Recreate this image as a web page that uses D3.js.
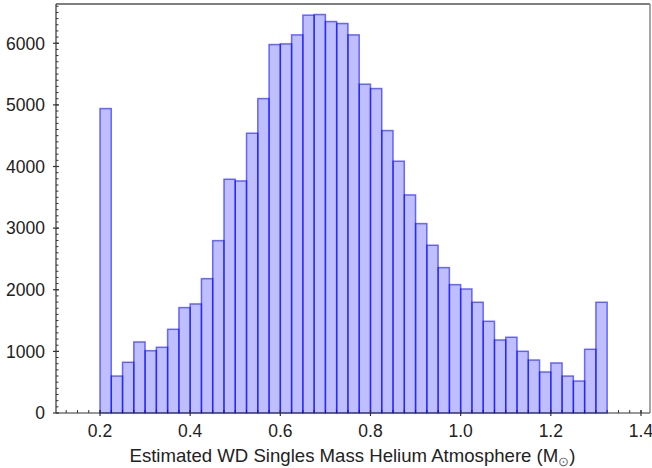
<!DOCTYPE html>
<html>
<head>
<meta charset="utf-8">
<script src="https://cdn.jsdelivr.net/npm/d3@7"></script>
<style>
  body { margin: 0; background: #fff; }
  text { font-family: "Liberation Sans", sans-serif; fill: #222; }
</style>
</head>
<body>
<div id="chart"></div>
<script>
const W = 652, H = 468;
const mLeft = 56, mRight = 650, mTop = 4, mBottom = 413;

// histogram of WD masses, bins 0.025 wide starting at 0.2
const binStart = 0.2;
const binWidth = 0.025;
const counts = [4940, 600, 823, 1153, 1011, 1066, 1358, 1710, 1770, 2180,
  2797, 3793, 3766, 4540, 5102, 5979, 5990, 6136, 6456, 6466,
  6352, 6320, 6136, 5336, 5265, 4583, 4086, 3539, 3073, 2722,
  2359, 2083, 2013, 1797, 1488, 1185, 1229, 1001, 860, 666,
  812, 600, 519, 1034, 1797];
const xTicks = [0.2, 0.4, 0.6, 0.8, 1.0, 1.2, 1.4];
const yTicks = [0, 1000, 2000, 3000, 4000, 5000, 6000];
const xLabel = "Estimated WD Singles Mass Helium Atmosphere (M";

const bins = counts.map((c, i) => ({
  x0: +(binStart + i*binWidth).toFixed(3),
  x1: +(binStart + (i+1)*binWidth).toFixed(3),
  n: c
}));

const x = d3.scaleLinear().domain([0.1024, 1.42]).range([mLeft, mRight]);
const y = d3.scaleLinear().domain([0, 6637]).range([mBottom, mTop]);

const svg = d3.select('#chart').append('svg')
  .attr('width', W).attr('height', H);

// minor ticks (drawn first, bars cover them)
const xMinor = d3.range(0.125, 1.42, 0.025).map(v => +v.toFixed(3));
svg.append('g').selectAll('line').data(xMinor).join('line')
  .attr('x1', d => x(d)).attr('x2', d => x(d))
  .attr('y1', mBottom).attr('y2', mBottom - 3)
  .attr('stroke', '#333').attr('stroke-width', 1);
const yMinor = d3.range(100, 6637, 100);
svg.append('g').selectAll('line').data(yMinor).join('line')
  .attr('x1', mLeft).attr('x2', mLeft + 2.5)
  .attr('y1', d => y(d)).attr('y2', d => y(d))
  .attr('stroke', '#333').attr('stroke-width', 1);

// bars
svg.append('g').selectAll('rect').data(bins).join('rect')
  .attr('x', d => x(d.x0))
  .attr('y', d => y(d.n))
  .attr('width', d => x(d.x1) - x(d.x0))
  .attr('height', d => y(0) - y(d.n))
  .attr('fill', 'rgb(0,0,255)')
  .attr('fill-opacity', 0.25)
  .attr('stroke', 'rgb(0,0,255)')
  .attr('stroke-opacity', 0.55)
  .attr('stroke-width', 1.5);

// frame
svg.append('line').attr('x1', mLeft).attr('x2', mRight).attr('y1', mTop).attr('y2', mTop)
  .attr('stroke', '#555').attr('stroke-width', 1.5);
svg.append('line').attr('x1', mRight).attr('x2', mRight).attr('y1', mTop).attr('y2', mBottom)
  .attr('stroke', '#888').attr('stroke-width', 1.5);
svg.append('line').attr('x1', mLeft).attr('x2', mLeft).attr('y1', mTop).attr('y2', mBottom)
  .attr('stroke', '#333').attr('stroke-width', 1.2);
svg.append('line').attr('x1', mLeft).attr('x2', mRight).attr('y1', mBottom).attr('y2', mBottom)
  .attr('stroke', '#333').attr('stroke-width', 1.2);

// major ticks + labels
const xAxis = svg.append('g');
xAxis.selectAll('line').data(xTicks).join('line')
  .attr('x1', d => x(d)).attr('x2', d => x(d))
  .attr('y1', mBottom - 3).attr('y2', mBottom + 3)
  .attr('stroke', '#333').attr('stroke-width', 1.2);
xAxis.selectAll('text').data(xTicks).join('text')
  .attr('x', d => x(d)).attr('y', 437)
  .attr('text-anchor', 'middle')
  .attr('font-size', 17.5)
  .text(d => d.toFixed(1));

const yAxis = svg.append('g');
yAxis.selectAll('line').data(yTicks).join('line')
  .attr('x1', mLeft - 3).attr('x2', mLeft + 3)
  .attr('y1', d => y(d)).attr('y2', d => y(d))
  .attr('stroke', '#333').attr('stroke-width', 1.2);
yAxis.selectAll('text').data(yTicks).join('text')
  .attr('x', 45).attr('y', d => y(d))
  .attr('dy', '0.36em')
  .attr('text-anchor', 'end')
  .attr('font-size', 17.5)
  .text(d => d);

// x label with sun subscript
const lab = svg.append('text')
  .attr('x', (128 + 577) / 2).attr('y', 462)
  .attr('text-anchor', 'middle')
  .attr('font-size', 18.6);
lab.append('tspan').text(xLabel);
lab.append('tspan').attr('font-size', 12.5).attr('dy', 4).attr('fill', '#666').text('\u2299');
lab.append('tspan').attr('dy', -4).text(')');
</script>
</body>
</html>
